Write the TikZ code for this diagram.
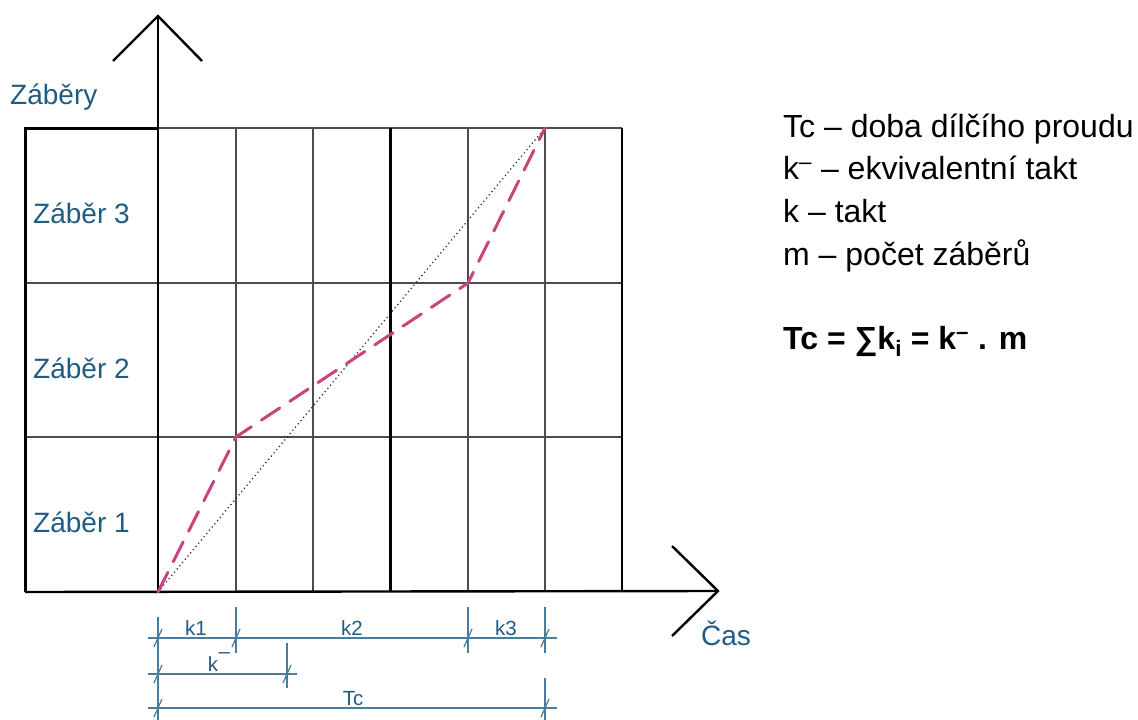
\documentclass[tikz,border=0pt]{standalone}
\usepackage{fontspec}
\setmainfont{Liberation Sans}
\definecolor{txtblue}{HTML}{1F5C84}
\definecolor{dimblue}{HTML}{4A7C9C}
\definecolor{pinkline}{HTML}{C8447E}
\begin{document}
\begin{tikzpicture}[x=1pt,y=-1pt,
  thingrid/.style={draw=black!70, line width=1.3pt},
  thickgrid/.style={draw=black, line width=3pt},
  axisline/.style={draw=black, line width=2.4pt},
  dimline/.style={draw=dimblue, line width=1.2pt},
  ticksl/.style={draw=dimblue, line width=1.2pt},
  rowlabel/.style={font=\fontsize{28}{30}\selectfont, text=txtblue, anchor=base west, inner sep=0},
  dimlabel/.style={font=\fontsize{20.5}{22}\selectfont, text=txtblue, anchor=base, inner sep=0},
  legendtxt/.style={font=\fontsize{32}{34}\selectfont, anchor=base west, inner sep=0},
]
\useasboundingbox (0,0) rectangle (1138,720);

% grid
\foreach \x in {236,313,468,545} \draw[thingrid] (\x,128) -- (\x,592);
\foreach \y in {283,437} \draw[thingrid] (25,\y) -- (622,\y);
\draw[thingrid] (158,128) -- (622,128);
\draw[thickgrid] (390,128) -- (390,592);
\draw[draw=black, line width=2.2pt] (622,128) -- (622,592);
\draw[thickgrid] (158,128) -- (25,128) -- (25,592);

% axes
\coordinate (o) at (158,592);
\coordinate (ytip) at (158,16);
\coordinate (xtip) at (718,591);
\coordinate (xorig) at (25,592);
\draw[axisline] (o) -- (ytip);
\draw[axisline, line join=miter] (113,61) -- (ytip) -- (202,61);
\draw[axisline] (xorig) -- (xtip);
\draw[axisline, line join=miter] (672,546) -- (xtip) -- (672,636);

% lines in the chart
\coordinate (p1) at (236,437);
\coordinate (p2) at (468,283);
\coordinate (p3) at (545,128);
\draw[black!85, line width=1.2pt, dash pattern=on 1.2pt off 3pt] (o) -- (p3);
\draw[pinkline, line width=3pt, dash pattern=on 22pt off 12pt, line cap=round] (o) -- (p1) -- (p2) -- (p3);

% labels
\node[rowlabel] (lzabery) at (10,104) {Záběry};
\node[rowlabel] (lz3) at (33,223) {Záběr 3};
\node[rowlabel] (lz2) at (33,378) {Záběr 2};
\node[rowlabel] (lz1) at (33,532) {Záběr 1};
\node[rowlabel] (lcas) at (701,645) {Čas};

% dimension lines
\draw[dimline] (148,638) -- (557,638);
\draw[dimline] (148,674) -- (297,674);
\draw[dimline] (148,708) -- (557,708);
\draw[dimline] (158,617) -- (158,720);
\foreach \x in {236,468,545} \draw[dimline] (\x,607) -- (\x,653);
\draw[dimline] (287,643) -- (287,688);
\draw[dimline] (545,678) -- (545,720);
\foreach \x/\y in {158/638,236/638,468/638,545/638,158/674,287/674,158/708,545/708}
  \draw[ticksl] (\x-4,\y+9) -- (\x+4,\y-9);

\node[dimlabel] (lk1) at (196,635) {k1};
\node[dimlabel] (lk2) at (352,635) {k2};
\node[dimlabel] (lk3) at (506,635) {k3};
\node[dimlabel] (lkbar) at (219,671) {k\kern0.5pt\raisebox{13pt}{–}};
\node[dimlabel] (ltc) at (353,705) {Tc};

% legend
\node[legendtxt] (leg1) at (783,137) {Tc – doba dílčího proudu};
\node[legendtxt] (leg2) at (783,179) {k\textsuperscript{–} – ekvivalentní takt};
\node[legendtxt] (leg3) at (783,222) {k – takt};
\node[legendtxt] (leg4) at (783,265) {m – počet záběrů};
\node[legendtxt] (leg5) at (783,349) {\textbf{Tc = ∑k\textsubscript{i} = k\textsuperscript{–} . m}};
\end{tikzpicture}
\end{document}
